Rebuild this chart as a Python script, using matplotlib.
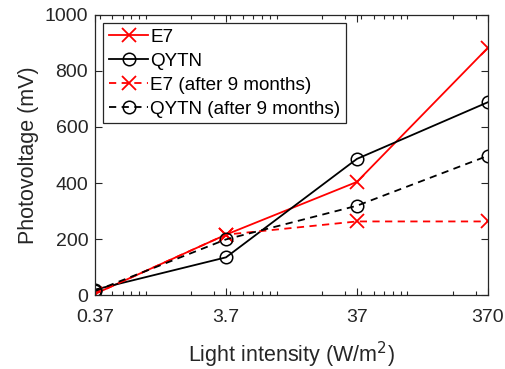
import numpy as np
import matplotlib
matplotlib.use("Agg")
import matplotlib.pyplot as plt
from matplotlib.ticker import FixedLocator, FixedFormatter, LogLocator, NullFormatter

plt.rcParams['font.family'] = ['Liberation Sans', 'DejaVu Sans']

intensity = [0.37, 3.7, 37, 370]
e7 = [5, 216, 404, 882]
qytn = [20, 135, 486, 688]
e7_aged = [5, 216, 263, 263]
qytn_aged = [15, 199, 319, 497]
xtick_labels = ['0.37', '3.7', '37', '370']

fig = plt.figure(figsize=(5.06, 3.69), dpi=100)
ax = fig.add_axes([0.188, 0.200, 0.776, 0.760])

ax.plot(intensity, e7, color='#ff0000', marker='x', ms=9.5, mew=1.3, lw=1.3, label='E7')
ax.plot(intensity, qytn, color='black', marker='o', ms=9, mfc='none', mew=1.1, lw=1.3, label='QYTN')
ax.plot(intensity, e7_aged, color='#ff0000', ls='--', dashes=(4, 3), marker='x', ms=9.5, mew=1.3, lw=1.3,
        label='E7 (after 9 months)')
ax.plot(intensity, qytn_aged, color='black', ls='--', dashes=(4, 3), marker='o', ms=9, mfc='none', mew=1.1,
        lw=1.3, label='QYTN (after 9 months)')

ax.set_xscale('log')
ax.set_xlim(0.37, 370)
ax.set_ylim(0, 1000)
ax.xaxis.set_major_locator(FixedLocator(intensity))
ax.xaxis.set_major_formatter(FixedFormatter(xtick_labels))
ax.xaxis.set_minor_locator(LogLocator(base=10, subs=np.arange(2, 10)))
ax.xaxis.set_minor_formatter(NullFormatter())
ax.set_yticks([0, 200, 400, 600, 800, 1000])

ax.tick_params(which='both', direction='in', top=True, right=True, colors='#262626',
               labelsize=14, width=0.8)
ax.tick_params(which='major', length=5)
ax.tick_params(which='minor', length=3)
ax.tick_params(axis='x', pad=10)
ax.tick_params(axis='y', pad=5)
for s in ax.spines.values():
    s.set_color('#262626')
    s.set_linewidth(0.9)

ax.set_xlabel('Light intensity (W/m$^2$)', fontsize=15.5, color='#262626', labelpad=10)
ax.set_ylabel('Photovoltage (mV)', fontsize=15.5, color='#262626', labelpad=4)

leg = ax.legend(loc='upper left', fontsize=13.6, fancybox=False, edgecolor='#262626',
                framealpha=1, borderaxespad=0.42, handlelength=2.1, handletextpad=0.1,
                labelspacing=0.36, borderpad=0.3)
leg.get_frame().set_linewidth(0.9)

fig.savefig('out.png', dpi=100)
